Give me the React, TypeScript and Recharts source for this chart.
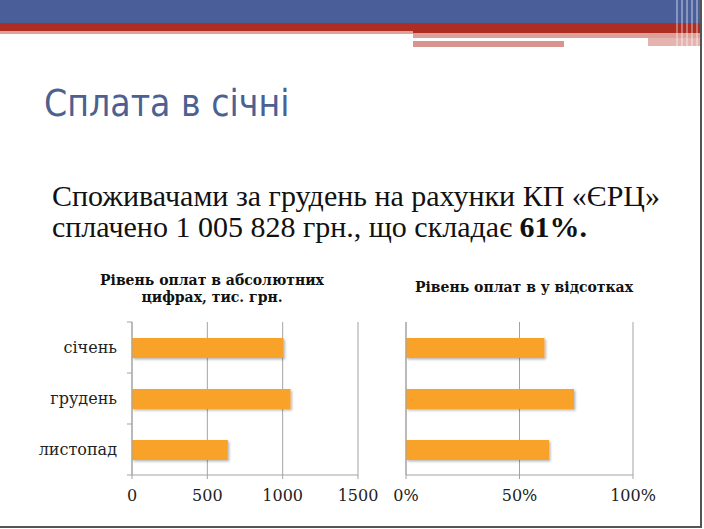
import { Bar, BarChart, CartesianGrid, XAxis, YAxis } from "recharts";

const months = ["січень", "грудень", "листопад"];
const paidThousands = [1006, 1052, 636];
const paidShare = [0.61, 0.74, 0.63];
const absTicks = [0, 500, 1000, 1500];
const pctTicks = [0, 0.5, 1];

const absData = months.map((m, i) => ({ month: m, value: paidThousands[i] }));
const pctData = months.map((m, i) => ({ month: m, value: paidShare[i] }));

const ORANGE = "#F8A22C";
const GRID = "#a3a3a3";
const SERIF = "'DejaVu Serif', serif";

// left chart geometry (chart coords)
const CH_H = 200;
const M_TOP = 12;
const X_H = 35;
const PLOT_H = CH_H - M_TOP - X_H;
const L_AXIS_W = 132;

function CategoryTick(props: any) {
  const { y, payload, index } = props;
  const band = PLOT_H / months.length;
  const ax = L_AXIS_W;
  return (
    <g>
      <text
        x={ax - 15}
        y={y}
        dy="0.35em"
        textAnchor="end"
        fontFamily={SERIF}
        fontSize={16}
        fill="#222"
      >
        {payload.value}
      </text>
      <line x1={ax - 5} x2={ax} y1={y - band / 2} y2={y - band / 2} stroke={GRID} />
      {index === months.length - 1 && (
        <line x1={ax - 5} x2={ax} y1={y + band / 2} y2={y + band / 2} stroke={GRID} />
      )}
    </g>
  );
}

const shadowDefs = (
  <defs>
    <filter id="barShadow" x="-5%" y="-20%" width="110%" height="160%">
      <feDropShadow dx="1.5" dy="1.5" stdDeviation="0.8" floodColor="#000" floodOpacity="0.28" />
    </filter>
  </defs>
);

const xTickStyle = { fontFamily: SERIF, fontSize: 16, fill: "#222" };

const chartTitle = {
  position: "absolute" as const,
  textAlign: "center" as const,
  fontFamily: SERIF,
  fontWeight: "bold" as const,
  fontSize: 14,
  lineHeight: "17px",
  color: "#111",
  whiteSpace: "nowrap" as const,
};

export default function App() {
  return (
    <div
      style={{
        position: "absolute",
        left: 0,
        top: 0,
        width: 704,
        height: 529,
        background: "#fff",
        overflow: "hidden",
      }}
    >
      {/* header bands */}
      <div style={{ position: "absolute", left: 0, top: 0, width: 700, height: 23, background: "#4A5E9A" }} />
      <div style={{ position: "absolute", left: 0, top: 23, width: 413, height: 8, background: "#AE2D22" }} />
      <div style={{ position: "absolute", left: 0, top: 31, width: 413, height: 3, background: "#DFA29B" }} />
      <div style={{ position: "absolute", left: 413, top: 23, width: 287, height: 10, background: "#AE2D22" }} />
      <div style={{ position: "absolute", left: 413, top: 33, width: 287, height: 5, background: "#DCA09A" }} />
      <div style={{ position: "absolute", left: 413, top: 41, width: 151, height: 6, background: "#D8948E" }} />
      <div style={{ position: "absolute", left: 648, top: 38, width: 52, height: 8, background: "#E6B4AE" }} />
      <div
        style={{
          position: "absolute",
          left: 676,
          top: 0,
          width: 24,
          height: 48,
          background:
            "repeating-linear-gradient(90deg, rgba(255,255,255,0.35) 0 2px, rgba(255,255,255,0) 2px 5px)",
        }}
      />
      {/* slide shadow */}
      <div style={{ position: "absolute", left: 700, top: 0, width: 2, height: 528, background: "#555" }} />
      <div style={{ position: "absolute", left: 0, top: 526, width: 702, height: 2, background: "#555" }} />

      <div
        style={{
          position: "absolute",
          left: 44,
          top: 82,
          fontFamily: "'DejaVu Sans Condensed', 'DejaVu Sans', sans-serif",
          fontSize: 37,
          color: "#4A6192",
          whiteSpace: "nowrap",
        }}
      >
        Сплата в січні
      </div>

      <div
        style={{
          position: "absolute",
          left: 52,
          top: 180,
          fontFamily: "'Liberation Serif', serif",
          fontSize: 30,
          lineHeight: "31px",
          color: "#111",
          whiteSpace: "nowrap",
        }}
      >
        Споживачами за грудень на рахунки КП «ЄРЦ»
        <br />
        сплачено 1 005 828 грн., що складає <b>61%.</b>
      </div>

      <div style={{ ...chartTitle, left: 62, top: 272, width: 300 }}>
        Рівень оплат в абсолютних
        <br />
        цифрах, тис. грн.
      </div>
      <div style={{ ...chartTitle, left: 380, top: 279, width: 288 }}>
        Рівень оплат в у відсотках
      </div>

      <div style={{ position: "absolute", left: 0, top: 310 }}>
        <BarChart
          width={380}
          height={CH_H}
          data={absData}
          layout="vertical"
          margin={{ top: M_TOP, right: 22, bottom: 0, left: 0 }}
          barSize={20}
        >
          {shadowDefs}
          <CartesianGrid horizontal={false} stroke={GRID} />
          <XAxis
            type="number"
            domain={[0, 1500]}
            ticks={absTicks}
            height={X_H}
            stroke={GRID}
            tickSize={4}
            tickMargin={11}
            tick={xTickStyle}
          />
          <YAxis
            type="category"
            dataKey="month"
            width={L_AXIS_W}
            stroke={GRID}
            tickLine={false}
            tick={<CategoryTick />}
          />
          <Bar dataKey="value" fill={ORANGE} isAnimationActive={false} style={{ filter: "url(#barShadow)" }} />
        </BarChart>
      </div>

      <div style={{ position: "absolute", left: 380, top: 310 }}>
        <BarChart
          width={290}
          height={CH_H}
          data={pctData}
          layout="vertical"
          margin={{ top: M_TOP, right: 37, bottom: 0, left: 0 }}
          barSize={20}
        >
          {shadowDefs}
          <CartesianGrid horizontal={false} stroke={GRID} />
          <XAxis
            type="number"
            domain={[0, 1]}
            ticks={pctTicks}
            height={X_H}
            stroke={GRID}
            tickSize={4}
            tickMargin={11}
            tick={xTickStyle}
            tickFormatter={(v: number) => `${Math.round(v * 100)}%`}
          />
          <YAxis type="category" dataKey="month" width={26} stroke={GRID} tickLine={false} tick={false} />
          <Bar dataKey="value" fill={ORANGE} isAnimationActive={false} style={{ filter: "url(#barShadow)" }} />
        </BarChart>
      </div>
    </div>
  );
}
